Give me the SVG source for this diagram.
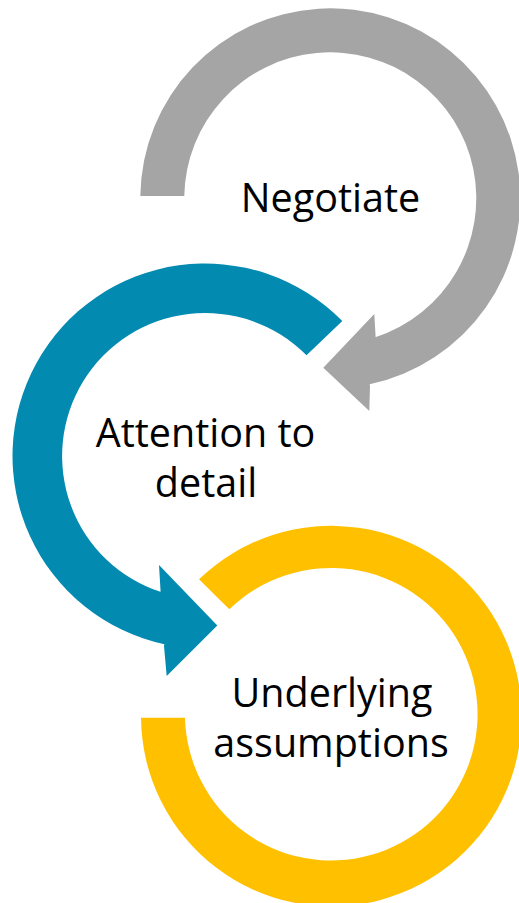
<svg xmlns="http://www.w3.org/2000/svg" width="519" height="903" viewBox="0 0 519 903">
  <style>
    .lbl { font-family: "Open Sans", "Noto Sans", "Liberation Sans", sans-serif; font-size: 39.5px; fill: #000000; text-anchor: middle; }
    .gray { fill: #A5A5A5; }
    .blue { fill: #028AB1; }
    .yellow { fill: #FFC000; }
  </style>
  <rect x="0" y="0" width="519" height="903" fill="#FFFFFF"/>
  <g id="node-negotiate">
    <path class="gray" d="M 140.3,196 A 190 190 0 1 1 369.6,384.2 L 370,386 L 369.3,411 L 323.3,367.7 L 374.3,314 L 375.7,338.3 L 375.3,337.2 A 146 146 0 1 0 184.3,196 Z"/>
    <text class="lbl" x="330.5" y="211.7">Negotiate</text>
  </g>
  <g id="node-attention">
    <path class="blue" d="M 342.3,321.1 A 192.5 192.5 0 1 0 164.4,644.2 L 164,646 L 166.7,676 L 217.3,625.5 L 159,565 L 160.7,593.3 L 161.1,592.1 A 143 143 0 1 1 306.5,355.2 Z"/>
    <text class="lbl" x="205.5" y="446.7">Attention to</text>
    <text class="lbl" x="206" y="496.7">detail</text>
  </g>
  <g id="node-assumptions">
    <path class="yellow" d="M 141,717.7 A 190.3 190.3 0 1 0 199,579.3 L 229.3,609.3 A 146.3 146.3 0 1 1 185,717.7 Z"/>
    <text class="lbl" x="332" y="706.7">Underlying</text>
    <text class="lbl" x="331" y="756.7">assumptions</text>
  </g>
  <g id="connectors"></g>
</svg>
